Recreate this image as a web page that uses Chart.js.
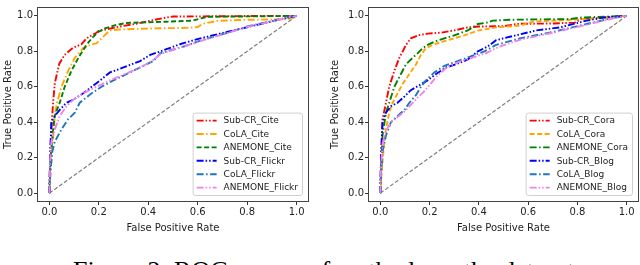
<!DOCTYPE html>
<html>
<head>
<meta charset="utf-8">
<script src="https://cdn.jsdelivr.net/npm/chart.js@4/dist/chart.umd.min.js"></script>
<style>
  html, body { margin: 0; padding: 0; background: #fff; width: 640px; height: 265px; overflow: hidden; }
  .box { position: absolute; top: 0; width: 320px; height: 240px; }
  #caption { position: absolute; left: 73px; top: 258px; font: 26px/26px "Liberation Serif", serif; color: #000; white-space: nowrap; }
</style>
</head>
<body>
<div class="box" style="left:0"><canvas id="left" width="320" height="240"></canvas></div>
<div class="box" style="left:320px"><canvas id="right" width="320" height="240"></canvas></div>
<div id="caption">Figure 2: ROC curves of methods on the datasets.</div>
<script>
// ticks shared by both panels
const tickVals = [0, 0.2, 0.4, 0.6, 0.8, 1.0]
const diagX = [0, 1]
const diagY = [0, 1]

// left panel: Cite / Flickr
const subcrCiteX = [0, 0.003, 0.008, 0.015, 0.022, 0.04, 0.062, 0.096, 0.13, 0.15, 0.19, 0.2, 0.24, 0.285, 0.35, 0.41, 0.47, 0.5, 0.6, 0.7, 0.8, 0.9, 1]
const subcrCiteY = [0, 0.2, 0.36, 0.51, 0.62, 0.73, 0.78, 0.82, 0.84, 0.873, 0.905, 0.915, 0.927, 0.94, 0.955, 0.973, 0.99, 0.996, 0.997, 0.998, 0.999, 1, 1]
const colaCiteX = [0, 0.004, 0.012, 0.022, 0.031, 0.049, 0.076, 0.103, 0.137, 0.171, 0.19, 0.216, 0.244, 0.285, 0.366, 0.447, 0.556, 0.6, 0.62, 0.68, 0.8, 0.95, 0.976, 1]
const colaCiteY = [0, 0.1, 0.253, 0.435, 0.51, 0.6, 0.69, 0.763, 0.818, 0.84, 0.845, 0.88, 0.918, 0.923, 0.927, 0.93, 0.932, 0.937, 0.955, 0.972, 0.978, 0.98, 0.985, 1]
const anemoneCiteX = [0, 0.002, 0.004, 0.015, 0.022, 0.042, 0.062, 0.089, 0.117, 0.15, 0.171, 0.198, 0.225, 0.26, 0.31, 0.47, 0.58, 0.61, 0.64, 0.8, 1]
const anemoneCiteY = [0, 0.1, 0.18, 0.36, 0.437, 0.51, 0.6, 0.69, 0.763, 0.836, 0.873, 0.909, 0.93, 0.945, 0.96, 0.967, 0.973, 0.985, 0.995, 0.997, 1]
const subcrFlickrX = [0, 0.003, 0.008, 0.022, 0.042, 0.069, 0.096, 0.137, 0.171, 0.205, 0.245, 0.3, 0.367, 0.408, 0.45, 0.528, 0.61, 0.745, 0.854, 0.947, 1]
const subcrFlickrY = [0, 0.2, 0.4, 0.435, 0.47, 0.51, 0.526, 0.563, 0.6, 0.636, 0.681, 0.709, 0.745, 0.78, 0.8, 0.84, 0.873, 0.918, 0.954, 0.985, 1]
const colaFlickrX = [0, 0.004, 0.012, 0.022, 0.049, 0.076, 0.103, 0.123, 0.171, 0.211, 0.259, 0.313, 0.367, 0.42, 0.45, 0.55, 0.62, 0.72, 0.8, 0.9, 0.96, 1]
const colaFlickrY = [0, 0.12, 0.235, 0.29, 0.36, 0.417, 0.454, 0.51, 0.563, 0.6, 0.636, 0.672, 0.709, 0.745, 0.79, 0.83, 0.865, 0.905, 0.94, 0.97, 0.99, 1]
const anemoneFlickrX = [0, 0.003, 0.008, 0.022, 0.042, 0.069, 0.096, 0.137, 0.19, 0.245, 0.306, 0.367, 0.415, 0.45, 0.55, 0.62, 0.72, 0.8, 0.9, 0.96, 1]
const anemoneFlickrY = [0, 0.18, 0.29, 0.36, 0.435, 0.49, 0.526, 0.563, 0.6, 0.636, 0.672, 0.709, 0.745, 0.785, 0.83, 0.862, 0.903, 0.938, 0.968, 0.99, 1]

// right panel: Cora / Blog
const subcrCoraX = [0, 0.003, 0.009, 0.023, 0.036, 0.057, 0.077, 0.091, 0.104, 0.124, 0.152, 0.192, 0.246, 0.3, 0.355, 0.4, 0.5, 0.56, 0.7, 0.79, 0.82, 0.9, 1]
const subcrCoraY = [0, 0.2, 0.417, 0.51, 0.6, 0.69, 0.763, 0.8, 0.836, 0.873, 0.89, 0.9, 0.905, 0.918, 0.935, 0.94, 0.942, 0.955, 0.957, 0.962, 0.985, 0.99, 1]
const colaCoraX = [0, 0.003, 0.005, 0.016, 0.023, 0.036, 0.05, 0.07, 0.091, 0.118, 0.145, 0.165, 0.185, 0.219, 0.274, 0.341, 0.4, 0.47, 0.566, 0.62, 0.7, 0.837, 0.92, 1]
const colaCoraY = [0, 0.05, 0.11, 0.29, 0.36, 0.454, 0.51, 0.563, 0.617, 0.672, 0.727, 0.78, 0.818, 0.84, 0.863, 0.89, 0.918, 0.935, 0.945, 0.967, 0.973, 0.982, 0.99, 1]
const anemoneCoraX = [0, 0.003, 0.009, 0.023, 0.036, 0.057, 0.077, 0.104, 0.131, 0.152, 0.172, 0.192, 0.219, 0.26, 0.3, 0.355, 0.396, 0.436, 0.457, 0.526, 0.634, 0.77, 0.81, 1]
const anemoneCoraY = [0, 0.15, 0.326, 0.454, 0.51, 0.6, 0.654, 0.727, 0.763, 0.79, 0.818, 0.836, 0.854, 0.873, 0.89, 0.918, 0.954, 0.963, 0.973, 0.978, 0.98, 0.982, 0.99, 1]
const subcrBlogX = [0, 0.003, 0.009, 0.023, 0.043, 0.07, 0.098, 0.124, 0.158, 0.192, 0.226, 0.267, 0.307, 0.355, 0.396, 0.436, 0.47, 0.526, 0.634, 0.73, 0.837, 0.905, 1]
const subcrBlogY = [0, 0.2, 0.4, 0.454, 0.49, 0.51, 0.545, 0.581, 0.608, 0.636, 0.672, 0.709, 0.727, 0.754, 0.8, 0.827, 0.863, 0.882, 0.918, 0.935, 0.973, 0.99, 1]
const colaBlogX = [0, 0.003, 0.009, 0.023, 0.043, 0.07, 0.098, 0.118, 0.145, 0.165, 0.185, 0.219, 0.26, 0.314, 0.368, 0.423, 0.47, 0.566, 0.7, 0.837, 0.95, 1]
const colaBlogY = [0, 0.1, 0.235, 0.326, 0.4, 0.435, 0.47, 0.51, 0.554, 0.6, 0.636, 0.681, 0.718, 0.745, 0.772, 0.8, 0.836, 0.873, 0.909, 0.954, 0.99, 1]
const anemoneBlogX = [0, 0.003, 0.009, 0.023, 0.043, 0.07, 0.098, 0.125, 0.152, 0.175, 0.2, 0.23, 0.27, 0.32, 0.375, 0.43, 0.48, 0.566, 0.7, 0.837, 0.95, 1]
const anemoneBlogY = [0, 0.15, 0.28, 0.35, 0.4, 0.43, 0.46, 0.5, 0.54, 0.57, 0.61, 0.66, 0.71, 0.74, 0.765, 0.79, 0.825, 0.865, 0.905, 0.95, 0.988, 1]

const dashDotDot = [7, 2, 1.5, 2, 1.5, 2]
const dashDot = [7, 2.5, 1.5, 2.5]
const dashed = [5, 2.5]

const pts = (xs, ys) => xs.map((x, i) => ({ x, y: ys[i] }))

const curve = (label, xs, ys, color, dash, i) => ({
  label, data: pts(xs, ys), borderColor: color, borderDash: dash,
  borderWidth: 1.9, pointRadius: 0, fill: false, tension: 0, order: 10 - i,
})

const diagonal = {
  label: '', data: pts(diagX, diagY), borderColor: '#7f7f7f', borderDash: [4, 2],
  borderWidth: 1.2, pointRadius: 0, fill: false, order: 20, isDiag: true,
}

// spines + legend in the lower right, like matplotlib
const framePlugin = {
  id: 'frame',
  afterDatasetsDraw(chart) {
    const { ctx, chartArea: a } = chart
    ctx.save()
    ctx.strokeStyle = '#444'
    ctx.lineWidth = 1
    ctx.strokeRect(a.left + 0.5, a.top + 0.5, a.right - a.left - 1, a.bottom - a.top - 1)

    const sets = chart.data.datasets.filter(d => !d.isDiag)
    ctx.font = '9px "DejaVu Sans"'
    const tw = Math.max(...sets.map(d => ctx.measureText(d.label).width))
    const w = tw + 35, rowH = 13.4, h = rowH * sets.length + 2
    const right = a.right - 7, bottom = a.bottom - 7
    const left = right - w, top = bottom - h
    ctx.beginPath()
    ctx.roundRect(left + 0.5, top + 0.5, w, h, 2.5)
    ctx.fillStyle = 'rgba(255,255,255,0.85)'
    ctx.fill()
    ctx.strokeStyle = '#d0d0d0'
    ctx.stroke()
    sets.forEach((d, i) => {
      const y = top + 8 + i * rowH
      ctx.beginPath()
      ctx.setLineDash(d.borderDash)
      ctx.strokeStyle = d.borderColor
      ctx.lineWidth = d.borderWidth
      ctx.moveTo(left + 4, y)
      ctx.lineTo(left + 24, y)
      ctx.stroke()
      ctx.setLineDash([])
      ctx.fillStyle = '#222'
      ctx.textBaseline = 'middle'
      ctx.fillText(d.label, left + 31, y + 0.5)
    })
    ctx.restore()
  },
}

Chart.defaults.font.family = '"DejaVu Sans", sans-serif'

const makeChart = (id, datasets, yAxisWidth, yTitlePad, padRight) => {
  const axis = (title) => ({
    type: 'linear', min: -0.05, max: 1.05,
    afterBuildTicks: s => { s.ticks = tickVals.map(v => ({ value: v })) },
    ticks: { callback: v => v.toFixed(1), font: { size: 10 }, color: '#222', padding: 1, maxRotation: 0, autoSkip: false },
    grid: { display: true, drawOnChartArea: false, drawTicks: true, tickLength: 3, tickColor: '#333' },
    border: { display: false },
    title: { display: true, text: title, font: { size: 10 }, color: '#222' },
  })
  const x = axis('False Positive Rate')
  x.title.padding = { top: 0, bottom: 6 }
  x.afterFit = s => { s.height = 38 }
  const y = axis('True Positive Rate')
  y.title.padding = { top: yTitlePad, bottom: 0 }
  y.afterFit = s => { s.width = yAxisWidth }

  return new Chart(document.getElementById(id), {
    type: 'line',
    data: { datasets: [...datasets, diagonal] },
    options: {
      responsive: false, animation: false,
      layout: { padding: { left: 0, right: padRight, top: 1, bottom: 0 } },
      plugins: { legend: { display: false }, tooltip: { enabled: false } },
      scales: { x, y },
    },
    plugins: [framePlugin],
  })
}

makeChart('left', [
  curve('Sub-CR_Cite', subcrCiteX, subcrCiteY, '#ff0000', dashDotDot, 0),
  curve('CoLA_Cite', colaCiteX, colaCiteY, '#ffa500', dashDot, 1),
  curve('ANEMONE_Cite', anemoneCiteX, anemoneCiteY, '#008000', dashed, 2),
  curve('Sub-CR_Flickr', subcrFlickrX, subcrFlickrY, '#0000ff', dashDotDot, 3),
  curve('CoLA_Flickr', colaFlickrX, colaFlickrY, '#1f77b4', dashDot, 4),
  curve('ANEMONE_Flickr', anemoneFlickrX, anemoneFlickrY, '#ee82ee', dashDotDot, 5),
], 37, 2, 11)

makeChart('right', [
  curve('Sub-CR_Cora', subcrCoraX, subcrCoraY, '#ff0000', dashDotDot, 0),
  curve('CoLA_Cora', colaCoraX, colaCoraY, '#ffa500', dashed, 1),
  curve('ANEMONE_Cora', anemoneCoraX, anemoneCoraY, '#008000', dashDot, 2),
  curve('Sub-CR_Blog', subcrBlogX, subcrBlogY, '#0000ff', dashDotDot, 3),
  curve('CoLA_Blog', colaBlogX, colaBlogY, '#1f77b4', dashDot, 4),
  curve('ANEMONE_Blog', anemoneBlogX, anemoneBlogY, '#ee82ee', dashDotDot, 5),
], 48, 9, 1)
</script>
</body>
</html>
